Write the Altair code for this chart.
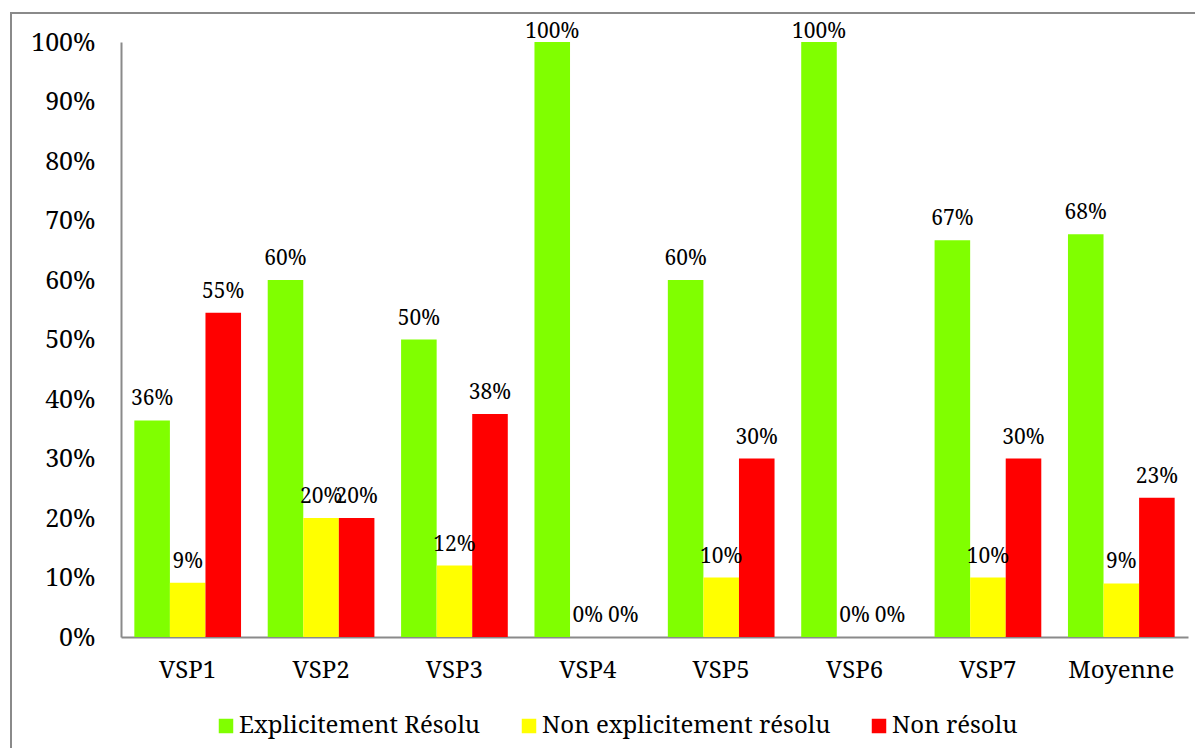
import altair as alt
import pandas as pd

categories = ["VSP1", "VSP2", "VSP3", "VSP4", "VSP5", "VSP6", "VSP7", "Moyenne"]
series = ["Explicitement Résolu", "Non explicitement résolu", "Non résolu"]
explicit = [36.4, 60.0, 50.0, 100.0, 60.0, 100.0, 66.7, 67.7]
non_explicit = [9.1, 20.0, 12.0, 0.0, 10.0, 0.0, 10.0, 9.0]
non_resolu = [54.5, 20.0, 37.5, 0.0, 30.0, 0.0, 30.0, 23.4]
colors = ["#80FF00", "#FFFF00", "#FF0000"]
y_ticks = [0, 10, 20, 30, 40, 50, 60, 70, 80, 90, 100]

rows = []
for s, vals in zip(series, [explicit, non_explicit, non_resolu]):
    for c, v in zip(categories, vals):
        rows.append({"cat": c, "series": s, "value": v})
df = pd.DataFrame(rows)

FONT = "Noto Serif"
AXIS_COLOR = "#8a8a8a"

base = alt.Chart(df).encode(
    x=alt.X("cat:N", sort=categories, title=None,
            scale=alt.Scale(paddingInner=0.2, paddingOuter=0.1),
            axis=alt.Axis(labelAngle=0, labelFont=FONT, labelFontSize=24,
                          labelColor="black", ticks=False, labelPadding=21,
                          domainColor=AXIS_COLOR, domainWidth=2)),
    xOffset=alt.XOffset("series:N", sort=series,
                        scale=alt.Scale(paddingInner=0, paddingOuter=0)),
)

bars = base.mark_bar().encode(
    y=alt.Y("value:Q", title=None, scale=alt.Scale(domain=[0, 100]),
            axis=alt.Axis(values=y_ticks, labelExpr="datum.value + '%'",
                          grid=False, ticks=False, labelFont=FONT,
                          labelFontSize=25, labelColor="black",
                          labelPadding=26, domainColor=AXIS_COLOR,
                          domainWidth=2)),
    color=alt.Color("series:N", sort=series,
                    scale=alt.Scale(domain=series, range=colors),
                    legend=alt.Legend(title=None, orient="none",
                                      direction="horizontal",
                                      legendX=93, legendY=672,
                                      symbolType="square", symbolSize=210,
                                      symbolStrokeWidth=0, labelFont=FONT,
                                      labelFontSize=24, labelColor="black",
                                      labelOffset=1, columnPadding=36,
                                      labelLimit=0, padding=0)),
)

labels = base.transform_calculate(
    ypos="min(datum.value, 98.2)",
    label="format(datum.value, '.0f') + '%'",
).mark_text(baseline="alphabetic", dy=-15, font=FONT, fontSize=21,
            color="black").encode(
    y=alt.Y("ypos:Q"),
    text="label:N",
)

frame = alt.Chart(alt.Data(values=[{}])).mark_rect(
    fillOpacity=0, stroke=AXIS_COLOR, strokeWidth=2
).encode(
    x=alt.value(-110), x2=alt.value(1140),
    y=alt.value(-29), y2=alt.value(800),
)

chart = alt.layer(frame, bars, labels).properties(
    width=1067, height=595,
    autosize=alt.AutoSizeParams(type="none"),
    padding={"left": 113, "top": 34, "right": 7, "bottom": 111},
).configure_view(stroke=None)

chart.save("out.html", embed_options={"renderer": "svg", "actions": False})
